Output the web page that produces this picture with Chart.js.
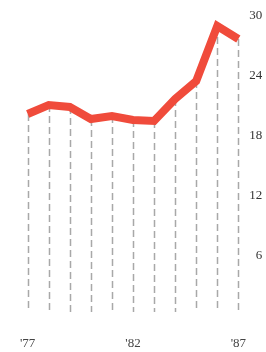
<!DOCTYPE html>
<html>
<head>
<meta charset="utf-8">
<script src="https://cdn.jsdelivr.net/npm/chart.js@4"></script>
<style>
  html, body { margin: 0; padding: 0; background: #fff; }
  #grafico { display: block; }
</style>
</head>
<body>
<canvas id="grafico" width="266" height="352"></canvas>
<script>
// dados
const anos = ['1977', '1978', '1979', '1980', '1981', '1982', '1983', '1984', '1985', '1986', '1987'];
const valores = [20.2, 21.1, 20.9, 19.7, 20.0, 19.6, 19.5, 21.7, 23.5, 29.0, 27.7];
const rotulosX = { 0: "'77", 5: "'82", 10: "'87" };
const ticksY = [6, 12, 18, 24, 30];

// linhas verticais tracejadas de cada ponto até a base
const linhasQueda = {
  id: 'linhasQueda',
  beforeDatasetsDraw(chart) {
    const ctx = chart.ctx;
    const meta = chart.getDatasetMeta(0);
    const base = chart.scales.y.getPixelForValue(0.4);
    ctx.save();
    ctx.strokeStyle = '#a8a8a8';
    ctx.lineWidth = 1.5;
    ctx.setLineDash([7, 4]);
    meta.data.forEach(pt => {
      ctx.beginPath();
      ctx.moveTo(Math.round(pt.x) + 0.5, pt.y);
      ctx.lineTo(Math.round(pt.x) + 0.5, base);
      ctx.stroke();
    });
    ctx.restore();
  }
};

const ctx = document.getElementById('grafico').getContext('2d');
new Chart(ctx, {
  type: 'line',
  data: {
    labels: anos,
    datasets: [{
      data: valores,
      borderColor: '#f04b3b',
      borderWidth: 8,
      borderCapStyle: 'butt',
      borderJoinStyle: 'miter',
      pointRadius: 0,
      tension: 0,
      fill: false,
      clip: false
    }]
  },
  options: {
    responsive: false,
    animation: false,
    layout: { padding: { top: 16, left: 26, right: -2, bottom: 0 } },
    plugins: { legend: { display: false }, tooltip: { enabled: false } },
    scales: {
      x: {
        offset: false,
        grid: { display: false, drawTicks: false },
        border: { display: false },
        ticks: {
          autoSkip: false,
          maxRotation: 0,
          padding: 20,
          color: '#444',
          font: { family: "'Liberation Serif', serif", size: 13 },
          callback: (v, i) => rotulosX[i] || ''
        },
        afterFit: axis => { axis.height = 36; }
      },
      y: {
        position: 'right',
        min: 0,
        max: 30,
        grid: { display: false, drawTicks: false },
        border: { display: false },
        afterBuildTicks: axis => { axis.ticks = ticksY.map(v => ({ value: v })); },
        ticks: {
          padding: 3,
          crossAlign: 'far',
          color: '#333',
          font: { family: "'Liberation Serif', serif", size: 13 }
        },
        afterFit: axis => { axis.width = 24; }
      }
    }
  },
  plugins: [linhasQueda]
});
</script>
</body>
</html>
